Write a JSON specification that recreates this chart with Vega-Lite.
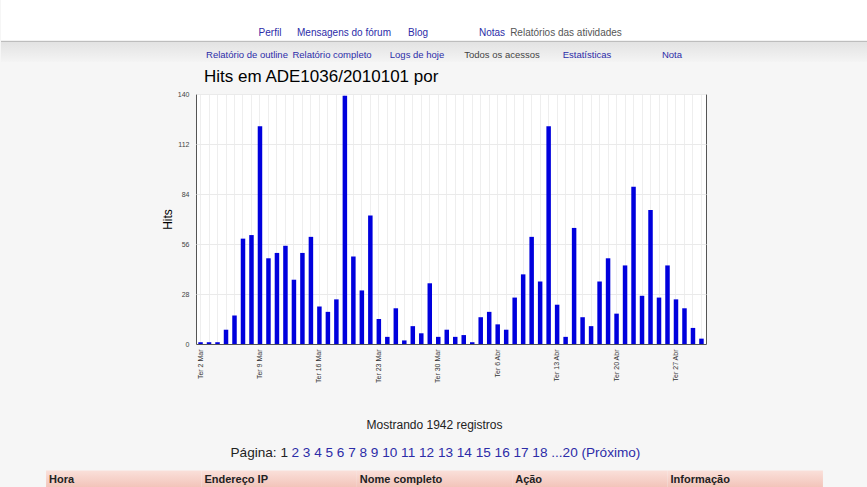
{
  "$schema": "https://vega.github.io/schema/vega-lite/v6.json",
  "background": "#f6f6f6",
  "padding": 0,
  "spacing": 5,
  "config": {
    "view": {"stroke": null},
    "font": "Liberation Sans",
    "axis": {"labelFont": "Liberation Sans", "titleFont": "Liberation Sans"}
  },
  "vconcat": [
    {
      "width": 867,
      "height": 62,
      "view": {"fill": "white", "stroke": null},
      "layer": [
        {
          "data": {"values": [{"linha": "menu"}]},
          "mark": {"type": "rect", "fill": {"gradient": "linear", "x1": 0, "y1": 0, "x2": 0, "y2": 1, "stops": [{"offset": 0, "color": "#e2e2e2"}, {"offset": 1, "color": "#f4f4f4"}]}},
          "encoding": {
            "y": {"field": "linha", "type": "nominal", "scale": {"type": "band", "domain": ["topo", "abas", "menu"], "paddingInner": 0, "paddingOuter": 0}, "axis": null}
          }
        },
        {
          "data": {"values": [{"linha": "menu"}]},
          "mark": {"type": "rule", "color": "#b4b4b4", "strokeWidth": 1},
          "encoding": {
            "y": {"field": "linha", "type": "nominal", "bandPosition": 0, "scale": {"type": "band", "domain": ["topo", "abas", "menu"], "paddingInner": 0, "paddingOuter": 0}, "axis": null}
          }
        },
        {
          "data": {"values": [
            {"linha": "abas", "item": "Perfil", "ativo": false},
            {"linha": "abas", "item": "Mensagens do fórum", "ativo": false},
            {"linha": "abas", "item": "Blog", "ativo": false},
            {"linha": "abas", "item": "Notas", "ativo": false},
            {"linha": "abas", "item": "Relatórios das atividades", "ativo": true}
          ]},
          "mark": {"type": "text", "font": "Liberation Sans", "fontSize": 10, "dy": 2},
          "encoding": {
            "x": {"field": "item", "type": "nominal", "sort": null, "scale": {"type": "point", "range": [269, 565], "padding": 0}, "axis": null},
            "y": {"field": "linha", "type": "nominal", "scale": {"type": "band", "domain": ["topo", "abas", "menu"], "paddingInner": 0, "paddingOuter": 0}, "axis": null},
            "text": {"field": "item"},
            "color": {"condition": {"test": "datum.ativo", "value": "#555555"}, "value": "#2c2ca8"}
          }
        },
        {
          "data": {"values": [
            {"linha": "menu", "item": "Relatório de outline", "ativo": false},
            {"linha": "menu", "item": "Relatório completo", "ativo": false},
            {"linha": "menu", "item": "Logs de hoje", "ativo": false},
            {"linha": "menu", "item": "Todos os acessos", "ativo": true},
            {"linha": "menu", "item": "Estatísticas", "ativo": false},
            {"linha": "menu", "item": "Nota", "ativo": false}
          ]},
          "mark": {"type": "text", "font": "Liberation Sans", "fontSize": 9.5, "dy": 3},
          "encoding": {
            "x": {"field": "item", "type": "nominal", "sort": null, "scale": {"type": "point", "range": [246, 671], "padding": 0}, "axis": null},
            "y": {"field": "linha", "type": "nominal", "scale": {"type": "band", "domain": ["topo", "abas", "menu"], "paddingInner": 0, "paddingOuter": 0}, "axis": null},
            "text": {"field": "item"},
            "color": {"condition": {"test": "datum.ativo", "value": "#444444"}, "value": "#2c2ca8"}
          }
        }
      ],
      "resolve": {"scale": {"x": "independent"}}
    },
    {
      "spacing": 0,
      "hconcat": [
        {
          "width": 159,
          "height": 10,
          "view": {"fill": "#f6f6f6", "stroke": null},
          "data": {"values": []},
          "mark": "point",
          "encoding": {}
        },
        {
          "width": 510,
          "height": 250,
          "view": {"fill": "white", "stroke": "#555555", "strokeWidth": 1},
          "title": {"text": "Hits em ADE1036/2010101 por", "anchor": "start", "frame": "group", "fontSize": 17, "fontWeight": "normal", "font": "Liberation Sans", "color": "#000000", "offset": 4, "dx": 8},
          "data": {"values": [
            {"dia": "Ter 2 Mar", "hits": 1}, {"dia": "Qua 3 Mar", "hits": 1}, {"dia": "Qui 4 Mar", "hits": 1}, {"dia": "Sex 5 Mar", "hits": 8},
            {"dia": "Sáb 6 Mar", "hits": 16}, {"dia": "Dom 7 Mar", "hits": 59}, {"dia": "Seg 8 Mar", "hits": 61}, {"dia": "Ter 9 Mar", "hits": 122},
            {"dia": "Qua 10 Mar", "hits": 48}, {"dia": "Qui 11 Mar", "hits": 51}, {"dia": "Sex 12 Mar", "hits": 55}, {"dia": "Sáb 13 Mar", "hits": 36},
            {"dia": "Dom 14 Mar", "hits": 51}, {"dia": "Seg 15 Mar", "hits": 60}, {"dia": "Ter 16 Mar", "hits": 21}, {"dia": "Qua 17 Mar", "hits": 18},
            {"dia": "Qui 18 Mar", "hits": 25}, {"dia": "Sex 19 Mar", "hits": 139}, {"dia": "Sáb 20 Mar", "hits": 49}, {"dia": "Dom 21 Mar", "hits": 30},
            {"dia": "Seg 22 Mar", "hits": 72}, {"dia": "Ter 23 Mar", "hits": 14}, {"dia": "Qua 24 Mar", "hits": 4}, {"dia": "Qui 25 Mar", "hits": 20},
            {"dia": "Sex 26 Mar", "hits": 2}, {"dia": "Sáb 27 Mar", "hits": 10}, {"dia": "Dom 28 Mar", "hits": 6}, {"dia": "Seg 29 Mar", "hits": 34},
            {"dia": "Ter 30 Mar", "hits": 4}, {"dia": "Qua 31 Mar", "hits": 8}, {"dia": "Qui 1 Abr", "hits": 4}, {"dia": "Sex 2 Abr", "hits": 5},
            {"dia": "Sáb 3 Abr", "hits": 1}, {"dia": "Dom 4 Abr", "hits": 15}, {"dia": "Seg 5 Abr", "hits": 18}, {"dia": "Ter 6 Abr", "hits": 11},
            {"dia": "Qua 7 Abr", "hits": 8}, {"dia": "Qui 8 Abr", "hits": 26}, {"dia": "Sex 9 Abr", "hits": 39}, {"dia": "Sáb 10 Abr", "hits": 60},
            {"dia": "Dom 11 Abr", "hits": 35}, {"dia": "Seg 12 Abr", "hits": 122}, {"dia": "Ter 13 Abr", "hits": 22}, {"dia": "Qua 14 Abr", "hits": 4},
            {"dia": "Qui 15 Abr", "hits": 65}, {"dia": "Sex 16 Abr", "hits": 15}, {"dia": "Sáb 17 Abr", "hits": 10}, {"dia": "Dom 18 Abr", "hits": 35},
            {"dia": "Seg 19 Abr", "hits": 48}, {"dia": "Ter 20 Abr", "hits": 17}, {"dia": "Qua 21 Abr", "hits": 44}, {"dia": "Qui 22 Abr", "hits": 88},
            {"dia": "Sex 23 Abr", "hits": 27}, {"dia": "Sáb 24 Abr", "hits": 75}, {"dia": "Dom 25 Abr", "hits": 26}, {"dia": "Seg 26 Abr", "hits": 44},
            {"dia": "Ter 27 Abr", "hits": 25}, {"dia": "Qua 28 Abr", "hits": 20}, {"dia": "Qui 29 Abr", "hits": 9}, {"dia": "Sex 30 Abr", "hits": 3}
          ]},
          "mark": {"type": "bar", "color": "#0000dd"},
          "encoding": {
            "x": {
              "field": "dia", "type": "nominal", "sort": null,
              "scale": {"type": "band", "paddingInner": 0.47, "paddingOuter": 0.27},
              "axis": {"title": null, "labelAngle": 270, "labelFontSize": 7, "labelColor": "#333333", "labelOverlap": false,
                       "labelExpr": "slice(datum.label, 0, 3) == 'Ter' ? datum.label : ''",
                       "ticks": false, "domainColor": "#555555", "grid": true, "gridColor": "#eeeeee", "labelPadding": 5, "minExtent": 60}
            },
            "y": {
              "field": "hits", "type": "quantitative",
              "scale": {"domain": [0, 140], "nice": false},
              "axis": {"values": [0, 28, 56, 84, 112, 140], "title": "Hits", "titleFontSize": 12, "titleFontWeight": "normal", "titleColor": "#000000",
                       "labelFontSize": 7, "labelColor": "#444444", "gridColor": "#eaeaea", "ticks": false, "domain": false, "labelPadding": 7, "titlePadding": 3}
            }
          }
        }
      ]
    },
    {
      "width": 867,
      "height": 85,
      "layer": [
        {
          "data": {"values": [{"col": "Hora"}, {"col": "Endereço IP"}, {"col": "Nome completo"}, {"col": "Ação"}, {"col": "Informação"}]},
          "mark": {"type": "rect", "fill": {"gradient": "linear", "x1": 0, "y1": 0, "x2": 0, "y2": 1, "stops": [{"offset": 0, "color": "#fae0da"}, {"offset": 1, "color": "#f1c0b5"}]}},
          "encoding": {
            "x": {"field": "col", "type": "nominal", "sort": null, "scale": {"type": "band", "paddingInner": 0, "paddingOuter": 0.29}, "axis": null},
            "y": {"datum": "tabela", "type": "nominal", "scale": {"type": "band", "domain": ["mostrando", "pagina", "tabela"], "paddingInner": 0.3, "paddingOuter": 0.195}, "axis": null}
          }
        },
        {
          "data": {"values": [{"col": "Hora"}, {"col": "Endereço IP"}, {"col": "Nome completo"}, {"col": "Ação"}, {"col": "Informação"}]},
          "mark": {"type": "text", "font": "Liberation Sans", "fontWeight": "bold", "fontSize": 11, "align": "left", "dx": 3, "color": "#222222"},
          "encoding": {
            "x": {"field": "col", "type": "nominal", "sort": null, "bandPosition": 0, "scale": {"type": "band", "paddingInner": 0, "paddingOuter": 0.29}, "axis": null},
            "y": {"datum": "tabela", "type": "nominal", "scale": {"type": "band", "domain": ["mostrando", "pagina", "tabela"], "paddingInner": 0.3, "paddingOuter": 0.195}, "axis": null},
            "text": {"field": "col"}
          }
        },
        {
          "data": {"values": [{"linha": "mostrando", "texto": "Mostrando 1942 registros"}]},
          "mark": {"type": "text", "font": "Liberation Sans", "fontSize": 12, "color": "#222222"},
          "encoding": {
            "y": {"field": "linha", "type": "nominal", "scale": {"type": "band", "domain": ["mostrando", "pagina", "tabela"], "paddingInner": 0.3, "paddingOuter": 0.195}, "axis": null},
            "text": {"field": "texto"}
          }
        },
        {
          "data": {"values": [{"linha": "pagina", "texto": "Página: 1"}]},
          "mark": {"type": "text", "font": "Liberation Sans", "fontSize": 13.6, "color": "#222222", "align": "right", "dx": -146.5},
          "encoding": {
            "y": {"field": "linha", "type": "nominal", "scale": {"type": "band", "domain": ["mostrando", "pagina", "tabela"], "paddingInner": 0.3, "paddingOuter": 0.195}, "axis": null},
            "text": {"field": "texto"}
          }
        },
        {
          "data": {"values": [{"linha": "pagina", "texto": "2 3 4 5 6 7 8 9 10 11 12 13 14 15 16 17 18 ...20 (Próximo)"}]},
          "mark": {"type": "text", "font": "Liberation Sans", "fontSize": 13.6, "color": "#2c2ca8", "align": "left", "dx": -143},
          "encoding": {
            "y": {"field": "linha", "type": "nominal", "scale": {"type": "band", "domain": ["mostrando", "pagina", "tabela"], "paddingInner": 0.3, "paddingOuter": 0.195}, "axis": null},
            "text": {"field": "texto"}
          }
        }
      ],
      "resolve": {"scale": {"x": "independent"}}
    }
  ]
}
